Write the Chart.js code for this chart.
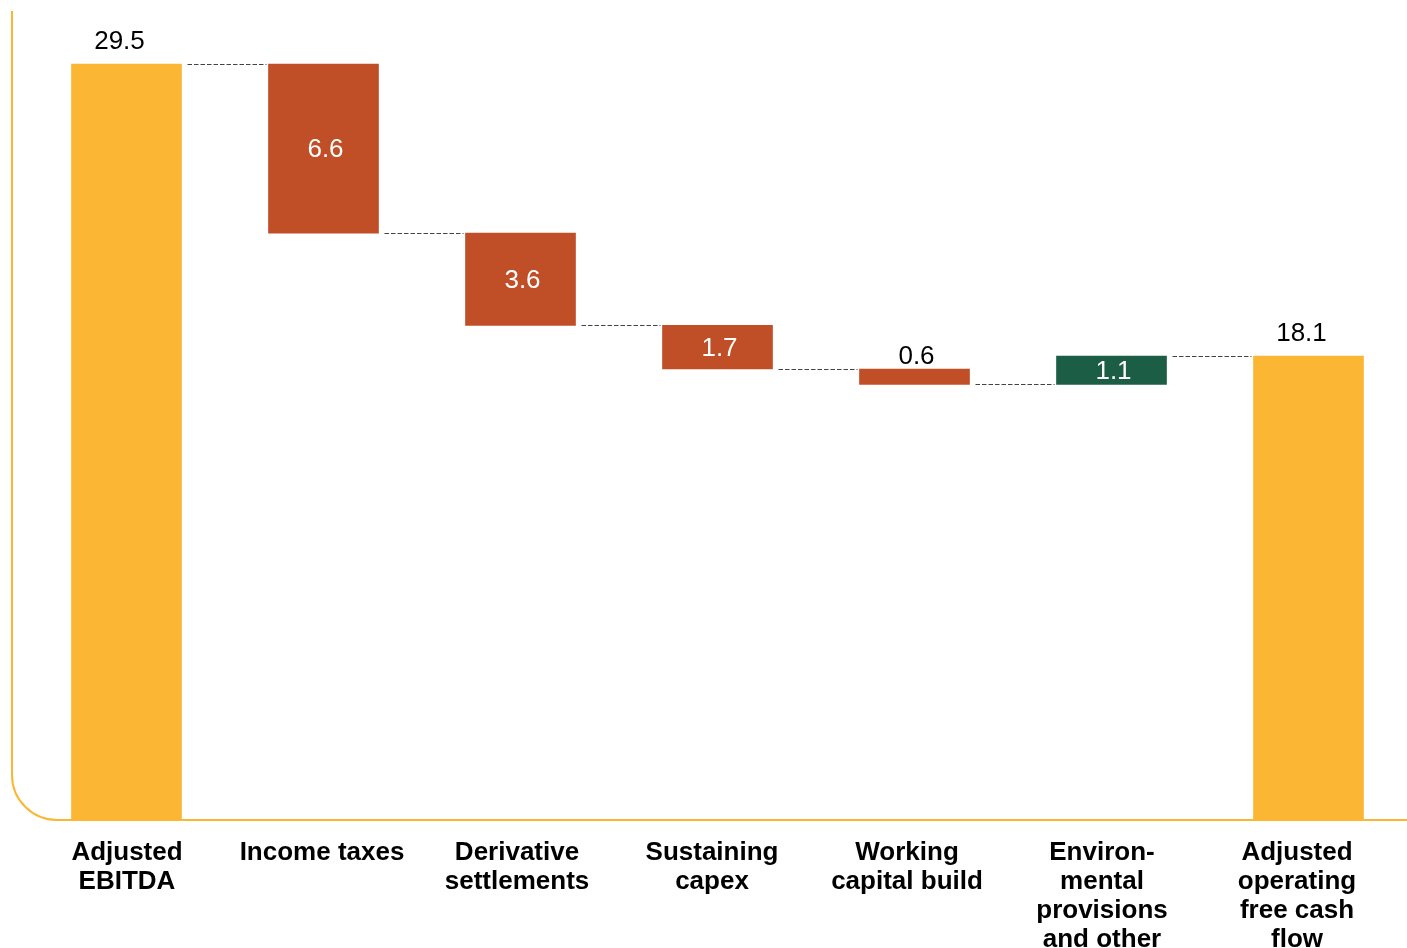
<!DOCTYPE html>
<html>
<head>
<meta charset="utf-8">
<script src="https://cdn.jsdelivr.net/npm/chart.js@4"></script>
<style>
  html, body { margin: 0; padding: 0; background: #fff; overflow: hidden; }
  #wrap { width: 1407px; height: 948px; position: relative; }
</style>
</head>
<body>
<div id="wrap"><canvas id="waterfall"></canvas></div>
<script>
const categories = [
  ['Adjusted', 'EBITDA'],
  ['Income taxes'],
  ['Derivative', 'settlements'],
  ['Sustaining', 'capex'],
  ['Working', 'capital build'],
  ['Environ-', 'mental', 'provisions', 'and other'],
  ['Adjusted', 'operating', 'free cash', 'flow']
];
const startTotal = 29.5;
const changes = [-6.6, -3.6, -1.7, -0.6, 1.1];
const endTotal = 18.1;

const YELLOW = '#FBB734';
const RED = '#C04F28';
const GREEN = '#1B5E45';
const FONT = '"Liberation Sans", Arial, sans-serif';

// floating bars: [low, high] for each step
const ranges = [[0, startTotal]];
const colors = [YELLOW];
const kinds = ['total'];
const levels = [startTotal]; // level each bar hands on to the next one
let level = startTotal;
changes.forEach(c => {
  const next = Math.round((level + c) * 10) / 10;
  ranges.push([Math.min(level, next), Math.max(level, next)]);
  colors.push(c < 0 ? RED : GREEN);
  kinds.push('change');
  levels.push(next);
  level = next;
});
ranges.push([0, endTotal]);
colors.push(YELLOW);
kinds.push('total');
const shown = [startTotal, ...changes.map(Math.abs), endTotal];

const frame = {
  id: 'frame',
  beforeDatasetsDraw(chart) {
    const ctx = chart.ctx;
    const bottom = chart.chartArea.bottom;
    const r = 45;
    ctx.save();
    ctx.strokeStyle = YELLOW;
    ctx.lineWidth = 2;
    ctx.beginPath();
    ctx.moveTo(12, 11);
    ctx.lineTo(12, bottom - r);
    ctx.arcTo(12, bottom, 12 + r, bottom, r);
    ctx.lineTo(chart.width, bottom);
    ctx.stroke();
    ctx.restore();
  },
  afterDatasetsDraw(chart) {
    const ctx = chart.ctx;
    const meta = chart.getDatasetMeta(0);
    const y = chart.scales.y;
    const x = chart.scales.x;
    ctx.save();
    // dashed connectors between neighbouring bars
    ctx.strokeStyle = '#444';
    ctx.lineWidth = 1;
    ctx.setLineDash([4.5, 2]);
    for (let i = 0; i < meta.data.length - 1; i++) {
      const a = meta.data[i], b = meta.data[i + 1];
      const py = Math.round(y.getPixelForValue(levels[i])) + 0.5;
      ctx.beginPath();
      ctx.moveTo(a.x + a.width / 2 + 6, py);
      ctx.lineTo(b.x - b.width / 2 - 2, py);
      ctx.stroke();
    }
    ctx.setLineDash([]);

    // value labels
    ctx.font = '26px ' + FONT;
    ctx.textAlign = 'center';
    ctx.textBaseline = 'middle';
    meta.data.forEach((bar, i) => {
      const top = Math.min(bar.y, bar.base);
      const h = Math.abs(bar.base - bar.y);
      const txt = shown[i].toFixed(1);
      if (kinds[i] === 'total') {
        ctx.fillStyle = '#000';
        ctx.fillText(txt, bar.x - 7, top - 22);
      } else if (h < 24) {
        ctx.fillStyle = '#000';
        ctx.fillText(txt, bar.x + 2, top - 12);
      } else {
        ctx.fillStyle = '#fff';
        ctx.fillText(txt, bar.x + 2, top + h / 2 + 1.5);
      }
    });

    // category labels, on a slightly tighter pitch than the bars
    const first = x.getPixelForValue(0);
    const pitch = (x.getPixelForValue(categories.length - 1) - first) / (categories.length - 1) - 2;
    ctx.font = 'bold 26px ' + FONT;
    ctx.fillStyle = '#000';
    categories.forEach((lines, i) => {
      const cx = first + 0.5 + i * pitch;
      lines.forEach((line, j) => {
        ctx.fillText(line, cx, chart.chartArea.bottom + 33 + j * 29);
      });
    });
    ctx.restore();
  }
};

new Chart(document.getElementById('waterfall'), {
  type: 'bar',
  data: {
    labels: categories,
    datasets: [{
      data: ranges,
      backgroundColor: colors,
      borderWidth: 0,
      borderSkipped: false,
      barThickness: 110
    }]
  },
  options: {
    responsive: true,
    maintainAspectRatio: false,
    animation: false,
    layout: { padding: { left: 28, right: 0, top: 0, bottom: 0 } },
    plugins: { legend: { display: false }, tooltip: { enabled: false } },
    scales: {
      y: { display: false, min: 0, max: 32 },
      x: {
        grid: { display: false, drawTicks: false },
        border: { display: false },
        afterFit(scale) { scale.height = 128; },
        ticks: { display: false }
      }
    }
  },
  plugins: [frame]
});
</script>
</body>
</html>
